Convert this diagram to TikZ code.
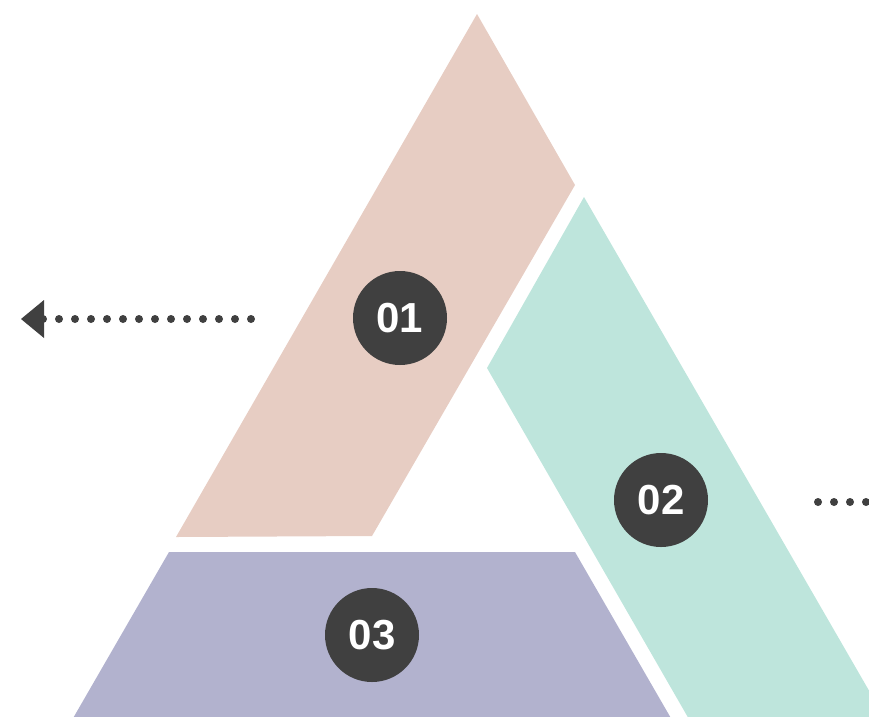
\documentclass[tikz,border=0pt]{standalone}
\usepackage{fontspec}
\setmainfont{Liberation Sans}
\definecolor{pinkc}{RGB}{231,205,195}
\definecolor{tealc}{RGB}{190,229,220}
\definecolor{purpc}{RGB}{178,178,206}
\definecolor{darkc}{RGB}{64,64,64}
\begin{document}
\begin{tikzpicture}[x=1pt,y=-1pt,
  badge/.style={circle,fill=darkc,minimum size=94pt,inner sep=0pt,text=white,font=\fontsize{42}{42}\selectfont\bfseries},
  dotline/.style={darkc,line width=8pt,line cap=round,dash pattern=on 0pt off 16pt}]
\useasboundingbox (0,0) rectangle (869,716);
\clip (0,0) rectangle (869,716);
% shapes
\fill[pinkc] (477,14) -- (575,185) -- (372,536) -- (176,537) -- cycle;
\fill[tealc] (584,197) -- (584+600*0.5774,797) -- (687+81*0.5774,797) -- (487,368) -- cycle;
\fill[purpc] (169,552) -- (575,552) -- (575+180*0.5774,732) -- (169-180*0.5774,732) -- cycle;
% badges
\node[badge] (b1) at (400,318) {01};
\node[badge] (b2) at (661,500) {02};
\node[badge] (b3) at (372,635) {03};
% left arrow
\coordinate (la) at (251,319);
\coordinate (lb) at (43,319);
\draw[dotline] (la) -- (lb);
\fill[darkc] (21,319) -- (44,300) -- (44,338) -- cycle;
% right dots
\coordinate (ra) at (818,502);
\coordinate (rb) at (890,502);
\draw[dotline] (ra) -- (rb);
\end{tikzpicture}
\end{document}
